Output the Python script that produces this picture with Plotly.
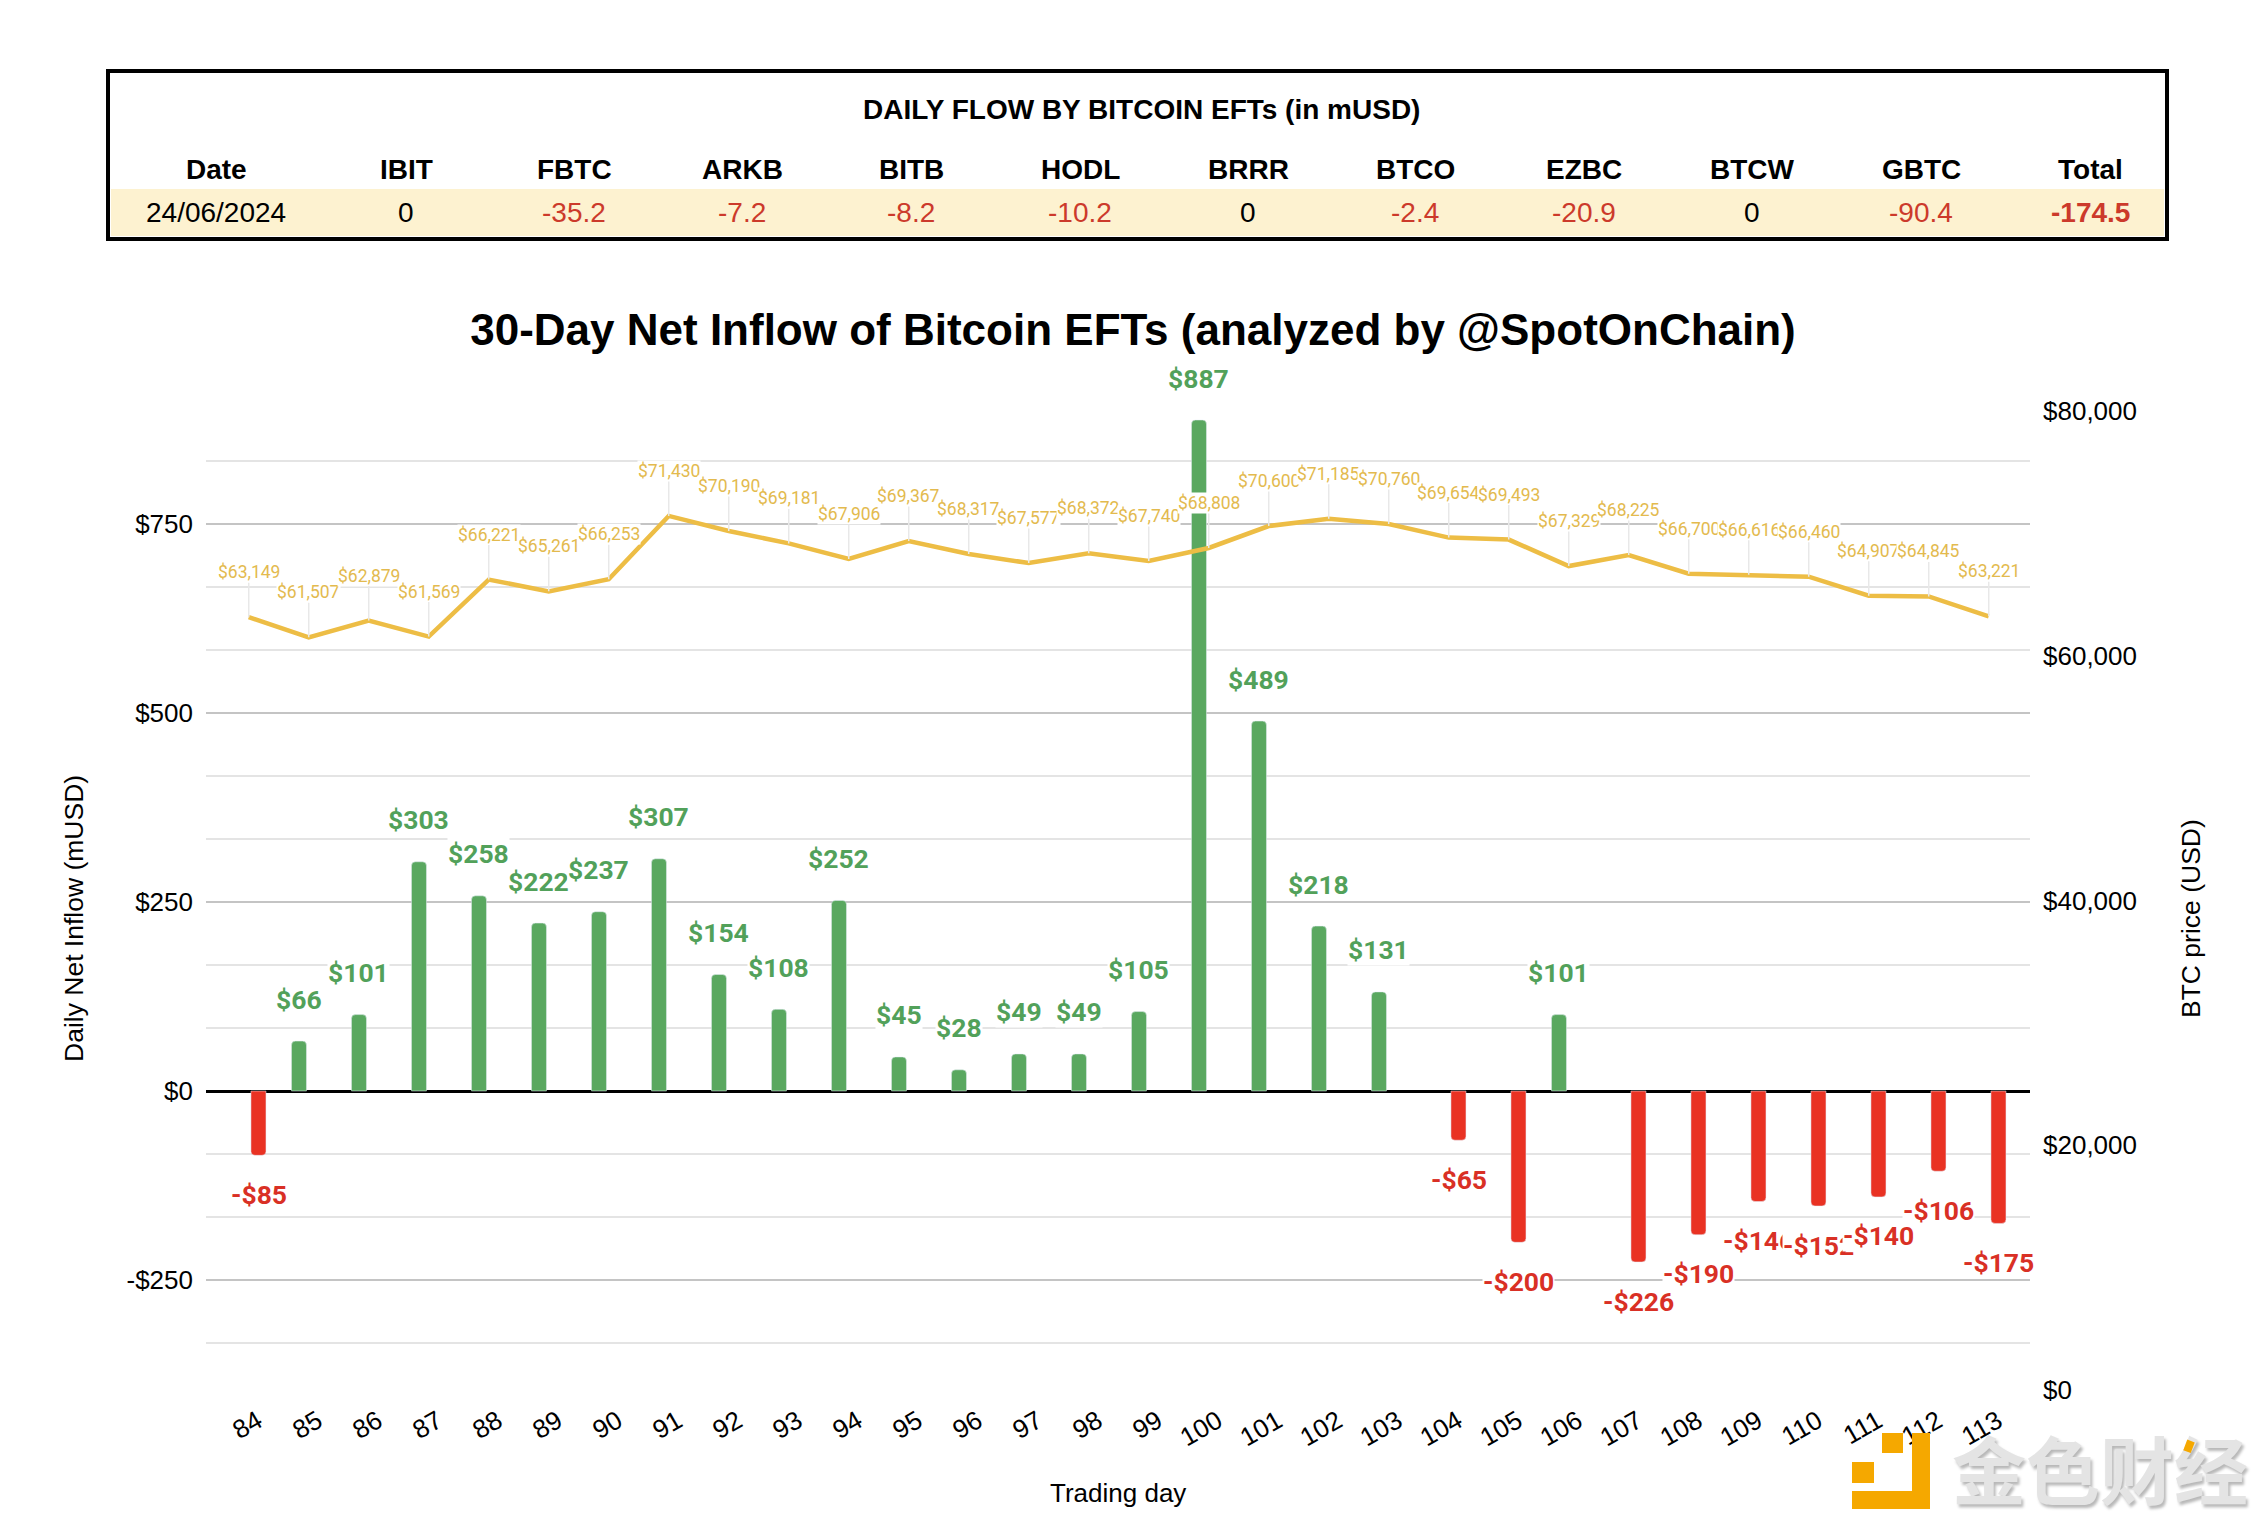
import plotly.graph_objects as go

WIDTH, HEIGHT = 2264, 1526
# plot area in page pixels
LEFT, RIGHT, TOP, BOTTOM = 206, 2030, 411, 1390

days = list(range(84, 114))
net_inflow = [-85, 66, 101, 303, 258, 222, 237, 307, 154, 108, 252, 45, 28, 49, 49,
              105, 887, 489, 218, 131, -65, -200, 101, -226, -190, -146, -152, -140, -106, -175]
btc_price = [63149, 61507, 62879, 61569, 66221, 65261, 66253, 71430, 70190, 69181,
             67906, 69367, 68317, 67577, 68372, 67740, 68808, 70600, 71185, 70760,
             69654, 69493, 67329, 68225, 66700, 66616, 66460, 64907, 64845, 63221]

table_columns = ["Date", "IBIT", "FBTC", "ARKB", "BITB", "HODL", "BRRR", "BTCO", "EZBC", "BTCW", "GBTC", "Total"]
table_values = ["24/06/2024", "0", "-35.2", "-7.2", "-8.2", "-10.2", "0", "-2.4", "-20.9", "0", "-90.4", "-174.5"]

left_ticks = [-250, 0, 250, 500, 750]
left_labels = ["-$250", "$0", "$250", "$500", "$750"]
right_ticks = [0, 20000, 40000, 60000, 80000]
right_labels = ["$0", "$20,000", "$40,000", "$60,000", "$80,000"]

GREEN = "#5AA860"
RED = "#E93223"
GREEN_TEXT = "#52A15A"
RED_TEXT = "#D93025"
GOLD = "#EDBD45"
GOLD_TEXT = "#E3BA4E"
ORANGE = "#F5A800"
ARIAL = "Liberation Sans"


def px(x):
    return (x - LEFT) / (RIGHT - LEFT)


def py(y):
    return (BOTTOM - y) / (BOTTOM - TOP)


def page_text(x, y, text, size, color="black", bold=False, angle=0, family=ARIAL, shadow=None):
    if bold:
        text = f"<b>{text}</b>"
    font = dict(family=family, size=size, color=color)
    if shadow:
        font["shadow"] = shadow
    return dict(xref="paper", yref="paper", x=px(x), y=py(y), text=text, showarrow=False,
                xanchor="center", yanchor="middle", textangle=angle, font=font)


def page_rect(x0, y0, x1, y1, **kw):
    return dict(type="rect", xref="paper", yref="paper", x0=px(x0), x1=px(x1), y0=py(y0), y1=py(y1), **kw)


fig = go.Figure()

fig.add_trace(go.Bar(x=days, y=[v if v >= 0 else None for v in net_inflow],
                     marker=dict(color=GREEN, cornerradius=4), name="Inflow"))
fig.add_trace(go.Bar(x=days, y=[v if v < 0 else None for v in net_inflow],
                     marker=dict(color=RED, cornerradius=4), name="Outflow"))
fig.add_trace(go.Scatter(x=days, y=btc_price, yaxis="y2", mode="lines",
                         line=dict(color=GOLD, width=4.5), name="BTC price"))

annotations = []

# price labels with their thin leader lines
for day, price in zip(days, btc_price):
    annotations.append(dict(x=day, y=price, yref="y2", text=f"${price:,}", showarrow=True,
                            ax=0, ay=-45, arrowhead=0, arrowwidth=1.5, arrowcolor="#E8E8E8",
                            bgcolor="white", borderpad=0,
                            font=dict(family="Roboto", size=17.5, color=GOLD_TEXT)))

# flow labels, same slot offset as the grouped bars
for day, value in zip(days, net_inflow):
    positive = value >= 0
    label = f"${value}" if positive else f"-${-value}"
    annotations.append(dict(x=day, y=value, text=f"<b>{label}</b>", showarrow=False,
                            xshift=-10 if positive else 10, yshift=42 if positive else -39,
                            bgcolor="white", borderpad=0,
                            font=dict(family="Roboto", size=26.5, color=GREEN_TEXT if positive else RED_TEXT)))

# table on top of the chart
column_x = [216, 406, 574, 742, 911, 1080, 1248, 1415, 1584, 1752, 1921, 2090]
annotations.append(page_text(1141, 109, "DAILY FLOW BY BITCOIN EFTs (in mUSD)", 28, bold=True))
for x, col, val in zip(column_x, table_columns, table_values):
    annotations.append(page_text(x, 169, col, 28, bold=True))
    negative = val.startswith("-")
    annotations.append(page_text(x, 213, val, 28, color="#CC3A2B" if negative else "black",
                                 bold=col == "Total"))

annotations.append(page_text(74, 919, "Daily Net Inflow (mUSD)", 26.5, angle=-90))
annotations.append(page_text(2191, 919, "BTC price (USD)", 26.5, angle=-90))
annotations.append(page_text(1118, 1493, "Trading day", 26))

# watermark text, the orange stroke has to sit on top of it
annotations.append(page_text(2100, 1466, "金色财经", 74, color="#E4E4E4", bold=True,
                             family="Noto Sans CJK SC", shadow="2px 3px 3px #B8B8B8"))
annotations.append(dict(xref="paper", yref="paper", x=px(2191), y=py(1441), text=" ", showarrow=True,
                        ax=-9, ay=24, arrowhead=0, arrowwidth=8, arrowcolor=ORANGE, standoff=0))

shapes = [
    page_rect(111, 189, 2164, 236, fillcolor="#FDF2D0", line_width=0, layer="below"),
    page_rect(108, 71, 2167, 239, line=dict(color="black", width=4)),
    # watermark logo
    page_rect(1882, 1433, 1903, 1453, fillcolor=ORANGE, line_width=0),
    page_rect(1852, 1462, 1874, 1483, fillcolor=ORANGE, line_width=0),
    page_rect(1912, 1433, 1930, 1509, fillcolor=ORANGE, line_width=0),
    page_rect(1852, 1491, 1930, 1509, fillcolor=ORANGE, line_width=0),
]

fig.update_layout(
    width=WIDTH,
    height=HEIGHT,
    margin=dict(l=LEFT, r=WIDTH - RIGHT, t=TOP, b=HEIGHT - BOTTOM),
    paper_bgcolor="white",
    plot_bgcolor="white",
    showlegend=False,
    barmode="group",
    bargap=0.35,
    bargroupgap=0.23,
    font=dict(family=ARIAL, size=26, color="black"),
    title=dict(text="<b>30-Day Net Inflow of Bitcoin EFTs (analyzed by @SpotOnChain)</b>",
               x=1133 / WIDTH, y=1 - 330 / HEIGHT, xanchor="center", yanchor="middle",
               font=dict(family=ARIAL, size=44, color="black")),
    xaxis=dict(range=[83.288, 113.688], tickmode="array", tickvals=days, tickangle=-30,
               showgrid=False, zeroline=False, ticklabelstandoff=10, ticklabelshift=9),
    yaxis=dict(range=[-395.2, 898.9], tickmode="array", tickvals=left_ticks, ticktext=left_labels,
               showgrid=True, gridcolor="#C4C4C4", gridwidth=2,
               zeroline=True, zerolinecolor="black", zerolinewidth=2.5,
               minor=dict(tickmode="array", tickvals=[k * 250 / 3 for k in range(-4, 11) if k % 3],
                          showgrid=True, gridcolor="#E4E4E4", gridwidth=2),
               ticklabelstandoff=12),
    yaxis2=dict(range=[0, 80000], overlaying="y", side="right", tickmode="array",
                tickvals=right_ticks, ticktext=right_labels, showgrid=False, zeroline=False,
                ticklabelstandoff=12),
    annotations=annotations,
    shapes=shapes,
)

fig.write_html("out.html", config={"displayModeBar": False},
               post_script="document.body.style.margin='0'")
